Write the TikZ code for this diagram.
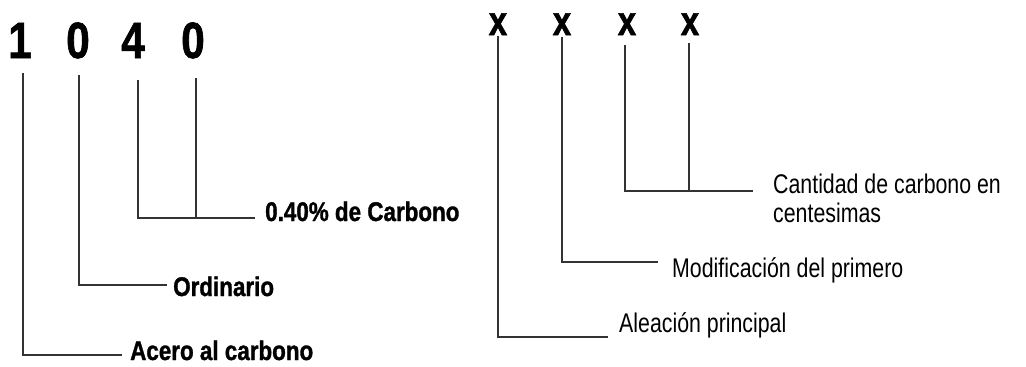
\documentclass[tikz,border=0pt]{standalone}
\usepackage{fontspec}
\setmainfont{Liberation Sans}
\newfontfamily\boldcond{Liberation Sans}[FakeStretch=0.83,FakeBold=1.2]
\newfontfamily\regcond{Liberation Sans}[FakeStretch=0.79]
\newfontfamily\markfont{Liberation Sans}[FakeStretch=0.8,FakeBold=1.5]
\begin{document}
\begin{tikzpicture}[x=1pt,y=-1pt,
  digit/.style={anchor=base,inner sep=0pt,font=\boldcond\bfseries\fontsize{51}{51}\selectfont},
  letterx/.style={anchor=base,inner sep=0pt,font=\markfont\bfseries\fontsize{41}{41}\selectfont},
  boldlabel/.style={anchor=base west,inner sep=0pt,font=\boldcond\bfseries\fontsize{27}{29}\selectfont},
  reglabel/.style={anchor=base west,inner sep=0pt,align=left,font=\regcond\fontsize{27}{29}\selectfont},
  leader/.style={draw=black!80,line width=1.1pt}]
\useasboundingbox (0,0) rectangle (1026,367);

% ---- Example: steel 1040 ----
\node[digit] (d1) at (20,58) {1};
\node[digit] (d2) at (78,58) {0};
\node[digit] (d3) at (133,58) {4};
\node[digit] (d4) at (193,58) {0};

\node[boldlabel] (acero) at (130,360) {Acero al carbono};
\node[boldlabel] (ordin) at (173,296) {Ordinario};
\node[boldlabel] (carb)  at (265,221) {0.40\% de Carbono};

\coordinate (t1) at (23,73);   \coordinate (e1) at (122,355);
\coordinate (t2) at (79,75);   \coordinate (e2) at (167,285);
\coordinate (t3) at (138,80);  \coordinate (e3) at (255,218);
\coordinate (t4) at (196,78);

\draw[leader] (t1) |- (e1);
\draw[leader] (t2) |- (e2);
\draw[leader] (t3) |- (e3);
\draw[leader] (t4) -- (t4 |- e3);

% ---- General scheme: x x x x ----
\node[letterx] (x1) at (498,35) {x};
\node[letterx] (x2) at (562,35) {x};
\node[letterx] (x3) at (627,35) {x};
\node[letterx] (x4) at (690,35) {x};

\node[reglabel] (alea) at (619,332) {Aleación principal};
\node[reglabel] (modi) at (672,277) {Modificación del primero};
% base anchor of a two-line node sits on its last line
\node[reglabel] (cant) at (773,222) {Cantidad de carbono en\\centesimas};

\coordinate (ta) at (498,36);  \coordinate (ea) at (608,337);
\coordinate (tb) at (562,37);  \coordinate (eb) at (658,262);
\coordinate (tc) at (625,45);  \coordinate (ec) at (753,191);
\coordinate (td) at (689,43);

\draw[leader] (ta) |- (ea);
\draw[leader] (tb) |- (eb);
\draw[leader] (tc) |- (ec);
\draw[leader] (td) -- (td |- ec);
\end{tikzpicture}
\end{document}
